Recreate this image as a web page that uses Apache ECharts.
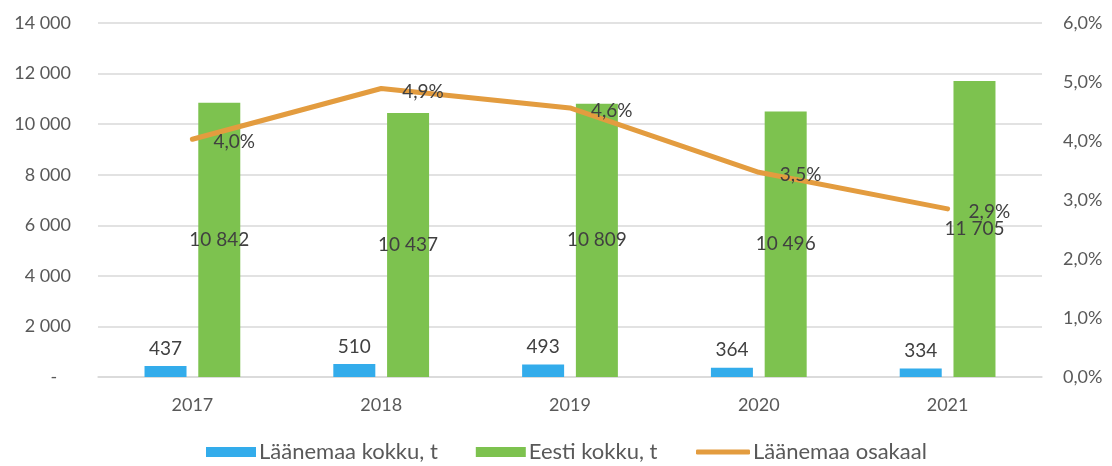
<!DOCTYPE html>
<html>
<head>
<meta charset="utf-8">
<script src="https://cdn.jsdelivr.net/npm/echarts@6/dist/echarts.min.js"></script>
<style>
  html, body { margin: 0; padding: 0; background: #fff; }
  #chart { width: 1112px; height: 466px; }
</style>
</head>
<body>
<div id="chart"></div>
<script>
// andmed
const years = ['2017', '2018', '2019', '2020', '2021'];
const laanemaa = [437, 510, 493, 364, 334];
const eesti = [10842, 10437, 10809, 10496, 11705];
const osakaal = [4.03, 4.89, 4.56, 3.47, 2.85];
const leftTicks = [0, 2000, 4000, 6000, 8000, 10000, 12000, 14000];
const rightTicks = [0, 1, 2, 3, 4, 5, 6];

const font = 'Lato, "Open Sans", sans-serif';
const lineColor = '#E39C3F';

function fmtNum(v) {
  return String(v).replace(/\B(?=(\d{3})+(?!\d))/g, ' ');
}
function fmtPct(v) {
  return v.toFixed(1).replace('.', ',') + '%';
}

let myChart = echarts.init(document.getElementById('chart'));
const legendText = { fontSize: 22, color: '#595959', fontFamily: font, padding: [0, 0, 0, -2] };
const option = {
  animation: false,
  textStyle: { fontFamily: font },
  grid: { left: 98, right: 70, top: 23, bottom: 89 },
  legend: [
    {
      left: 206,
      top: 441,
      padding: 0,
      itemWidth: 50,
      itemHeight: 10,
      itemGap: 38,
      textStyle: legendText,
      data: [
        { name: 'Läänemaa kokku, t', icon: 'rect' },
        { name: 'Eesti kokku, t', icon: 'rect' }
      ]
    },
    {
      left: 696,
      top: 441,
      padding: 0,
      itemWidth: 54,
      itemHeight: 5,
      textStyle: legendText,
      data: [{ name: 'Läänemaa osakaal', icon: 'roundRect' }]
    }
  ],
  xAxis: {
    type: 'category',
    data: years,
    axisLine: { show: true, lineStyle: { color: '#d9d9d9', width: 1.5 } },
    axisTick: { show: false },
    axisLabel: { color: '#595959', fontSize: 18, margin: 19 }
  },
  yAxis: [
    {
      type: 'value',
      min: leftTicks[0],
      max: leftTicks[leftTicks.length - 1],
      interval: 2000,
      axisLine: { show: false },
      axisTick: { show: false },
      splitLine: { lineStyle: { color: '#d9d9d9', width: 1.5 } },
      axisLabel: {
        color: '#595959', fontSize: 18, margin: 27,
        formatter: v => v === 0 ? '-   ' : fmtNum(v)
      }
    },
    {
      type: 'value',
      min: rightTicks[0],
      max: rightTicks[rightTicks.length - 1],
      interval: 1,
      axisLine: { show: false },
      axisTick: { show: false },
      splitLine: { show: false },
      axisLabel: {
        color: '#595959', fontSize: 18, margin: 21,
        formatter: v => fmtPct(v)
      }
    }
  ],
  series: [
    {
      name: 'Läänemaa kokku, t',
      type: 'bar',
      data: laanemaa,
      barWidth: 42,
      barGap: '28%',
      itemStyle: { color: '#33ACEB' },
      label: {
        show: true, position: 'top', distance: 8,
        color: '#404040', fontSize: 19,
        formatter: p => fmtNum(p.value)
      }
    },
    {
      name: 'Eesti kokku, t',
      type: 'bar',
      data: eesti,
      barWidth: 42,
      itemStyle: { color: '#7DC24F' },
      label: {
        show: true, position: 'inside',
        color: '#404040', fontSize: 19,
        formatter: p => fmtNum(p.value)
      }
    },
    {
      name: 'Läänemaa osakaal',
      type: 'line',
      yAxisIndex: 1,
      data: osakaal,
      symbol: 'circle',
      symbolSize: 2,
      showSymbol: true,
      z: 5,
      itemStyle: { color: lineColor },
      lineStyle: { color: lineColor, width: 5, cap: 'round', join: 'round' },
      label: {
        show: true, position: 'right', distance: 20, offset: [0, 3],
        color: '#404040', fontSize: 19,
        formatter: p => fmtPct(p.value)
      }
    }
  ]
};
myChart.setOption(option);
</script>
</body>
</html>
